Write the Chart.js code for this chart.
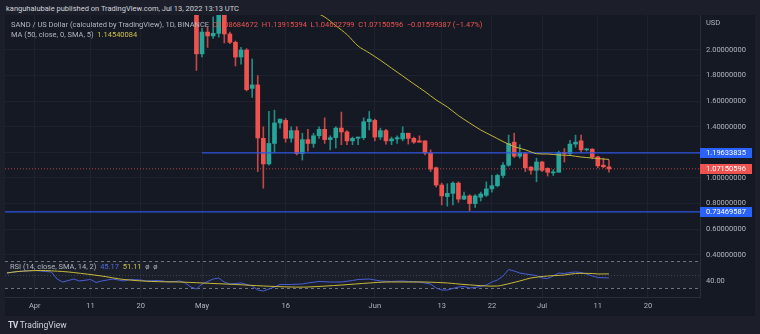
<!DOCTYPE html>
<html>
<head>
<meta charset="utf-8">
<script src="https://cdn.jsdelivr.net/npm/chart.js@4.4.1/dist/chart.umd.min.js"></script>
<style>
  html, body { margin: 0; padding: 0; }
  body { width: 760px; height: 334px; background: #1c1f2a; position: relative; overflow: hidden;
         font-family: Roboto, "Liberation Sans", sans-serif; }
  #frame { position: absolute; left: 5px; top: 15px; width: 750px; height: 301px; background: #151923; }
  .txt { position: absolute; font-size: 7.5px; line-height: 10px; white-space: nowrap; color: #b2b5be; }
  #priceBox { position: absolute; left: 5px; top: 15px; width: 750px; height: 243px; }
  #rsiBox { position: absolute; left: 5px; top: 258px; width: 750px; height: 58px; }
  .red { color: #ef5350; }
  .yel { color: #cfc14a; }
  .blu { color: #5468e0; }
</style>
</head>
<body>
<div id="frame"></div>
<div id="priceBox"><canvas id="priceChart" width="750" height="243"></canvas></div>
<div id="rsiBox"><canvas id="rsiChart" width="750" height="58"></canvas></div>

<div class="txt" style="left:6px;top:4px;color:#d1d4dc;">kanguhalubale published on TradingView.com, Jul 13, 2022 13:13 UTC</div>
<div class="txt" style="left:11px;top:20px;">SAND / US Dollar (calculated by TradingView), 1D, BINANCE&nbsp;
  <span class="red">O1.08684672&nbsp; H1.13915394&nbsp; L1.04622799&nbsp; C1.07150596&nbsp; −0.01599387 (−1.47%)</span></div>
<div class="txt" style="left:11px;top:30px;">MA (50, close, 0, SMA, 5)&nbsp; <span class="yel">1.14540084</span></div>
<div class="txt" style="left:706px;top:18px;">USD</div>
<div class="txt" style="left:10px;top:262px;">RSI (14, close, SMA, 14, 2)&nbsp; <span class="blu">45.17</span>&nbsp; <span class="yel">51.11</span>&nbsp; ø&nbsp; ø</div>
<div class="txt" style="left:8px;top:319px;font-size:8.5px;line-height:12px;color:#d1d4dc;"><b style="letter-spacing:-0.5px;">TV</b> TradingView</div>

<script>
// days are counted from Apr 1 2022 (Apr 1 = 0)
const firstDay = 29; // Apr 30

const opens = [2.36, 1.97, 2.14, 2.11, 2.13, 2.37, 2.125, 2.06, 1.945, 2.0, 1.70, 1.727, 1.31, 1.11, 1.27,
  1.43, 1.45, 1.31, 1.37, 1.19, 1.30, 1.27, 1.33, 1.38, 1.30, 1.315, 1.39, 1.36, 1.29, 1.31, 1.315, 1.44,
  1.45, 1.32, 1.37, 1.29, 1.305, 1.305, 1.35, 1.31, 1.29, 1.29, 1.195, 1.08, 0.945, 0.855, 0.88, 0.96,
  0.835, 0.86, 0.80, 0.85, 0.865, 0.915, 0.94, 1.02, 1.10, 1.28, 1.17, 1.19, 1.085, 1.06, 1.125, 1.075,
  1.04, 1.045, 1.20, 1.19, 1.265, 1.29, 1.22, 1.225, 1.165, 1.10, 1.08684672];
const highs = [2.42, 2.17, 2.18, 2.26, 2.42, 2.40, 2.14, 2.07, 2.02, 2.01, 1.93, 1.80, 1.40, 1.52, 1.53,
  1.46, 1.465, 1.40, 1.40, 1.35, 1.38, 1.35, 1.40, 1.47, 1.33, 1.40, 1.515, 1.37, 1.32, 1.32, 1.47, 1.52,
  1.46, 1.39, 1.38, 1.32, 1.33, 1.40, 1.35, 1.32, 1.33, 1.29, 1.22, 1.085, 0.96, 0.955, 0.97, 0.97,
  0.89, 0.87, 0.87, 0.89, 0.97, 1.02, 1.03, 1.12, 1.335, 1.35, 1.26, 1.20, 1.09, 1.155, 1.13, 1.08,
  1.065, 1.21, 1.23, 1.295, 1.335, 1.335, 1.23, 1.23, 1.17, 1.155, 1.13915394];
const lows = [1.84, 1.945, 2.02, 2.09, 2.10, 2.055, 2.05, 1.875, 1.89, 1.68, 1.63, 1.05, 0.92, 1.10, 1.20,
  1.39, 1.28, 1.28, 1.18, 1.14, 1.21, 1.24, 1.31, 1.27, 1.22, 1.235, 1.26, 1.26, 1.26, 1.26, 1.30, 1.375,
  1.29, 1.30, 1.265, 1.26, 1.27, 1.29, 1.265, 1.27, 1.28, 1.18, 1.05, 0.93, 0.79, 0.78, 0.79, 0.81,
  0.83, 0.745, 0.77, 0.82, 0.855, 0.89, 0.93, 1.00, 1.09, 1.16, 1.155, 1.05, 1.03, 0.97, 1.05, 1.015,
  1.02, 1.045, 1.125, 1.18, 1.24, 1.20, 1.21, 1.15, 1.08, 1.08, 1.04622799];
const closes = [1.97, 2.14, 2.11, 2.13, 2.37, 2.125, 2.06, 1.945, 2.0, 1.69, 1.727, 1.3125, 1.11, 1.27, 1.43,
  1.46, 1.31, 1.37, 1.19, 1.30, 1.27, 1.33, 1.38, 1.30, 1.315, 1.39, 1.36, 1.29, 1.31, 1.32, 1.44, 1.46,
  1.32, 1.37, 1.29, 1.305, 1.315, 1.35, 1.31, 1.28, 1.28, 1.195, 1.07, 0.945, 0.86, 0.88, 0.96, 0.835,
  0.86, 0.80, 0.86, 0.875, 0.915, 0.94, 1.02, 1.10, 1.27, 1.17, 1.195, 1.08, 1.06, 1.125, 1.06, 1.045,
  1.045, 1.20, 1.19, 1.265, 1.28, 1.22, 1.225, 1.165, 1.095, 1.0875, 1.07150596];

// 50-day moving average
const maDays = [50, 52, 54, 56, 58, 60, 62, 64, 66, 68, 70, 72, 74, 76, 78, 80, 82, 84, 86, 88, 90, 92, 94,
  96, 98, 100, 102, 103];
const maValues = [2.30, 2.258, 2.19, 2.121, 2.031, 1.977, 1.92, 1.858, 1.797, 1.735, 1.675, 1.61, 1.555,
  1.4875, 1.43, 1.375, 1.33, 1.285, 1.245, 1.22, 1.19, 1.1875, 1.18, 1.176, 1.164, 1.156, 1.148, 1.14540084];

// RSI(14) and its SMA(14)
const rsiDays = [-5, -3, 0, 3, 4, 5, 7, 8, 10, 11, 12, 14, 15, 16, 17, 19, 20, 22, 23, 24, 26, 27, 28, 29,
  30, 32, 33, 34, 35, 37, 39, 40, 41, 43, 44, 46, 48, 49, 51, 53, 55, 57, 58, 60, 62, 64, 66, 67, 69, 71,
  72, 73, 74, 76, 77, 78, 79, 81, 82, 83, 84, 85, 86, 87, 88, 90, 91, 92, 93, 94, 95, 96, 97, 98, 99,
  100, 101, 103];
const rsiValues = [52.4, 54.6, 56.1, 53.9, 43.6, 39.2, 43.6, 40.7, 42.9, 38.5, 40.7, 43.6, 42.2, 40.7, 42.9,
  42.2, 40.7, 41.4, 40.7, 39.2, 40.7, 37.8, 31.9, 29.0, 36.3, 43.6, 45.0, 39.2, 36.3, 37.8, 33.4, 27.5,
  26.0, 31.9, 35.6, 35.6, 36.3, 37.8, 40.0, 39.2, 39.2, 41.4, 42.9, 43.6, 40.7, 40.0, 40.7, 40.0, 39.2,
  36.3, 30.4, 27.5, 27.5, 31.9, 32.6, 30.4, 31.2, 34.8, 39.2, 42.2, 48.0, 57.5, 55.3, 52.4, 51.0, 48.7,
  45.1, 44.3, 48.0, 52.4, 51.7, 53.1, 53.9, 53.1, 51.0, 48.0, 45.8, 45.17];
const smaDays = [-5, -3, 1, 5, 7, 12, 16, 21, 26, 30, 36, 41, 46, 49, 55, 60, 63, 67, 70, 74, 77, 81, 83,
  84, 87, 89, 92, 95, 97, 100, 101, 103];
const smaValues = [52.4, 54.6, 56.1, 54.6, 53.1, 48.0, 42.9, 40.0, 39.2, 37.8, 35.6, 33.4, 31.9, 31.9, 34.8,
  37.8, 39.2, 39.2, 39.2, 37.8, 35.6, 33.4, 33.4, 34.8, 40.7, 45.1, 48.0, 49.5, 51.7, 51.7, 51.0, 51.11];

// drawn levels
const trendLevel = 1.19633835;
const trendStartDay = 30;
const supportLevel = 0.73469587;
const lastClose = closes[closes.length - 1];

const priceTicks = [0.4, 0.6, 0.8, 1.0, 1.2, 1.4, 1.6, 1.8, 2.0];
const rsiTicks = [40];
const tickDays = [0, 10, 19, 30, 45, 61, 73, 82, 91, 101, 110];
const tickLabels = ['Apr', '11', '20', 'May', '16', 'Jun', '13', '22', 'Jul', '11', '20'];

const X_MIN = -5.34, X_MAX = 119.33;
const UP = '#26a69a', DOWN = '#ef5350';
const GRID = '#1e2230';
const AXIS_TEXT = '#b2b5be';
const FONT = { family: 'Roboto, "Liberation Sans", sans-serif', size: 7.5 };

const candleColor = opens.map((o, i) => closes[i] >= o ? UP : DOWN);
const wickColor = opens.map((o, i) => closes[i] >= o ? 'rgba(38,166,154,0.8)' : 'rgba(239,83,80,0.8)');

// keep the plot area flush with the canvas edges
function noPad(s) { s.paddingTop = 0; s.paddingBottom = 0; s.paddingLeft = 0; s.paddingRight = 0; }

function xAxis(showLabels) {
  return {
    type: 'linear', min: X_MIN, max: X_MAX, offset: false,
    afterBuildTicks: s => { s.ticks = tickDays.map(v => ({ value: v })); },
    afterFit: s => { s.height = showLabels ? 19 : 0; noPad(s); },
    grid: { color: GRID, drawTicks: false, offset: false },
    border: { display: showLabels, color: '#2a2e39' },
    ticks: {
      display: showLabels, autoSkip: false, maxRotation: 0, padding: 5,
      color: AXIS_TEXT, font: FONT,
      callback: (v, i) => tickLabels[i]
    }
  };
}

function yAxis(min, max, ticks, digits, showGrid) {
  return {
    position: 'right', min: min, max: max,
    afterBuildTicks: s => { s.ticks = ticks.map(v => ({ value: v })); },
    afterFit: s => { s.width = 55; noPad(s); },
    grid: { display: showGrid, color: GRID, drawTicks: false },
    border: { color: '#2a2e39' },
    ticks: { padding: 6, color: AXIS_TEXT, font: FONT, callback: v => v.toFixed(digits) }
  };
}

// price tags on the right axis
const axisTags = {
  id: 'axisTags',
  afterDraw(chart) {
    const { ctx } = chart;
    const y = chart.scales.y;
    const tags = [
      { value: trendLevel, color: '#2962ff' },
      { value: lastClose, color: '#ef5350' },
      { value: supportLevel, color: '#2962ff' }
    ];
    ctx.save();
    ctx.font = '7.5px Roboto, "Liberation Sans", sans-serif';
    ctx.textBaseline = 'middle';
    tags.forEach(t => {
      const py = Math.round(y.getPixelForValue(t.value));
      ctx.fillStyle = t.color;
      ctx.fillRect(y.left, py - 5, 52, 10);
      ctx.fillStyle = '#ffffff';
      ctx.fillText(t.value.toFixed(8), y.left + 6, py + 0.5);
    });
    ctx.restore();
  }
};

new Chart(document.getElementById('priceChart'), {
  type: 'bar',
  data: {
    datasets: [
      {
        type: 'line', label: 'MA 50', order: 0,
        data: maDays.map((d, i) => ({ x: d, y: maValues[i] })),
        borderColor: '#c4b53c', borderWidth: 1, pointRadius: 0, tension: 0.3
      },
      {
        type: 'line', label: 'trend', order: 1,
        data: [{ x: trendStartDay, y: trendLevel }, { x: X_MAX, y: trendLevel }],
        borderColor: '#2f55e0', borderWidth: 1.2, pointRadius: 0
      },
      {
        type: 'line', label: 'support', order: 1,
        data: [{ x: X_MIN, y: supportLevel }, { x: X_MAX, y: supportLevel }],
        borderColor: '#2f55e0', borderWidth: 1.2, pointRadius: 0
      },
      {
        type: 'line', label: 'last', order: 1,
        data: [{ x: X_MIN, y: lastClose }, { x: X_MAX, y: lastClose }],
        borderColor: 'rgba(239,83,80,0.75)', borderWidth: 1, borderDash: [1, 2], pointRadius: 0
      },
      {
        label: 'bodies', order: 3, grouped: false,
        data: opens.map((o, i) => ({ x: firstDay + i, y: [o, closes[i]] })),
        backgroundColor: candleColor, barThickness: 4, minBarLength: 1
      },
      {
        label: 'wicks', order: 4, grouped: false,
        data: opens.map((o, i) => ({ x: firstDay + i, y: [lows[i], highs[i]] })),
        backgroundColor: wickColor, barThickness: 1
      }
    ]
  },
  options: {
    responsive: false,
    animation: false,
    layout: { padding: 0 },
    plugins: { legend: { display: false }, tooltip: { enabled: false } },
    scales: {
      x: xAxis(false),
      y: yAxis(0.375, 2.2734, priceTicks, 8, true)
    }
  },
  plugins: [axisTags]
});

// RSI bands: 70 / 50 / 30 levels
const rsiBands = {
  id: 'rsiBands',
  beforeDatasetsDraw(chart) {
    const { ctx, chartArea: a } = chart;
    const y = chart.scales.y;
    const y70 = y.getPixelForValue(70), y50 = y.getPixelForValue(50), y30 = y.getPixelForValue(30);
    ctx.save();
    ctx.fillStyle = 'rgba(140,140,170,0.06)';
    ctx.fillRect(a.left, y70, a.right - a.left, y30 - y70);
    ctx.strokeStyle = 'rgba(150,153,165,0.7)';
    ctx.lineWidth = 1;
    ctx.setLineDash([3, 3]);
    [y70, y30].forEach(py => {
      ctx.beginPath(); ctx.moveTo(a.left, Math.round(py) + 0.5); ctx.lineTo(a.right, Math.round(py) + 0.5); ctx.stroke();
    });
    ctx.strokeStyle = 'rgba(150,153,165,0.3)';
    ctx.setLineDash([1, 2]);
    ctx.beginPath(); ctx.moveTo(a.left, Math.round(y50) + 0.5); ctx.lineTo(a.right, Math.round(y50) + 0.5); ctx.stroke();
    ctx.restore();
  }
};

new Chart(document.getElementById('rsiChart'), {
  type: 'line',
  data: {
    datasets: [
      {
        label: 'RSI SMA', order: 0,
        data: smaDays.map((d, i) => ({ x: d, y: smaValues[i] })),
        borderColor: '#c9b93a', borderWidth: 1, pointRadius: 0, tension: 0.3
      },
      {
        label: 'RSI', order: 1,
        data: rsiDays.map((d, i) => ({ x: d, y: rsiValues[i] })),
        borderColor: '#4a5fd8', borderWidth: 1, pointRadius: 0
      }
    ]
  },
  options: {
    responsive: false,
    animation: false,
    layout: { padding: 0 },
    plugins: { legend: { display: false }, tooltip: { enabled: false } },
    scales: {
      x: xAxis(true),
      y: yAxis(17.26, 74.39, rsiTicks, 2, false)
    }
  },
  plugins: [rsiBands]
});
</script>
</body>
</html>
